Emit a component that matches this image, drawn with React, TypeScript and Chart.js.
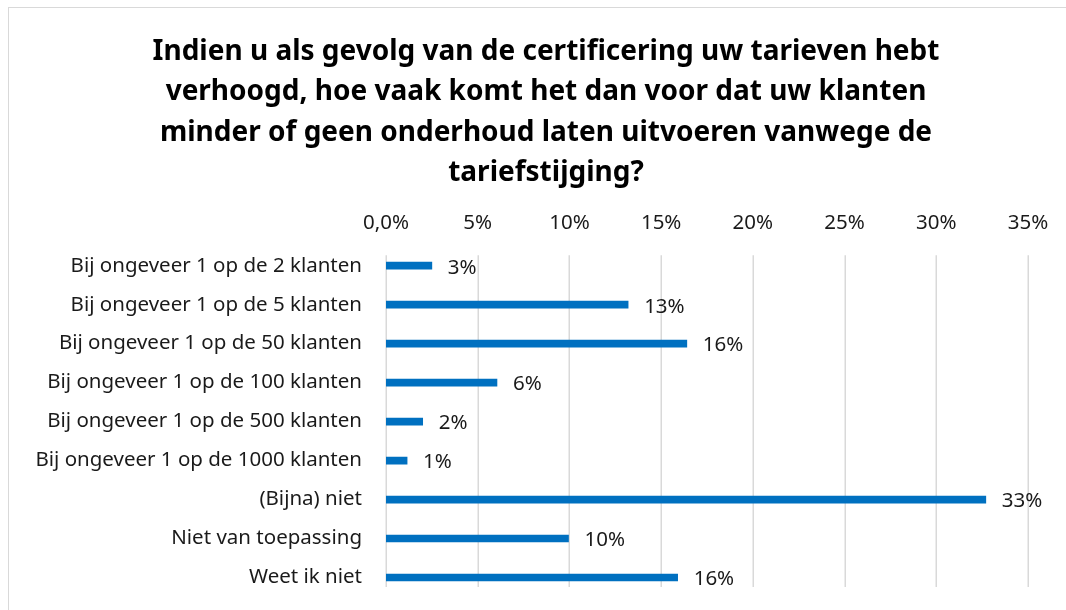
import React, { useEffect, useRef } from "react";
import { Chart, registerables } from "chart.js";

Chart.register(...registerables);

const titleLines = [
  "Indien u als gevolg van de certificering uw tarieven hebt",
  "verhoogd, hoe vaak komt het dan voor dat uw klanten",
  "minder of geen onderhoud laten uitvoeren vanwege de",
  "tariefstijging?",
];

const categories = [
  "Bij ongeveer 1 op de 2 klanten",
  "Bij ongeveer 1 op de 5 klanten",
  "Bij ongeveer 1 op de 50 klanten",
  "Bij ongeveer 1 op de 100 klanten",
  "Bij ongeveer 1 op de 500 klanten",
  "Bij ongeveer 1 op de 1000 klanten",
  "(Bijna) niet",
  "Niet van toepassing",
  "Weet ik niet",
];

const values = [2.5, 13.2, 16.4, 6.05, 2.0, 1.15, 32.7, 9.95, 15.9];

const valueLabels = ["3%", "13%", "16%", "6%", "2%", "1%", "33%", "10%", "16%"];

const tickLabels: Record<number, string> = {
  0: "0,0%",
  5: "5%",
  10: "10%",
  15: "15%",
  20: "20%",
  25: "25%",
  30: "30%",
  35: "35%",
};

const FONT = "'Noto Sans', sans-serif";
const TEXT = "#1a1a1a";

const gridPlugin = {
  id: "shortGrid",
  beforeDatasetsDraw(chart: any) {
    const ctx = chart.ctx;
    const xs = chart.scales.x;
    const area = chart.chartArea;
    ctx.save();
    ctx.strokeStyle = "#d9d9d9";
    ctx.lineWidth = 1.5;
    xs.ticks.forEach((t: any) => {
      const px = Math.round(xs.getPixelForValue(t.value)) + 0.25;
      ctx.beginPath();
      ctx.moveTo(px, area.top + 9);
      ctx.lineTo(px, area.bottom - 10);
      ctx.stroke();
    });
    ctx.restore();
  },
};

const dataLabelPlugin = {
  id: "dataLabels",
  afterDatasetsDraw(chart: any) {
    const ctx = chart.ctx;
    const meta = chart.getDatasetMeta(0);
    ctx.save();
    ctx.font = `20.5px ${FONT}`;
    ctx.fillStyle = TEXT;
    ctx.textAlign = "left";
    ctx.textBaseline = "middle";
    meta.data.forEach((bar: any, i: number) => {
      ctx.fillText(valueLabels[i], bar.x + 16, bar.y + 2);
    });
    ctx.restore();
  },
};

export default function App() {
  const ref = useRef<HTMLCanvasElement>(null);
  useEffect(() => {
    if (!ref.current) return;
    const chart = new Chart(ref.current, {
      type: "bar",
      data: {
        labels: categories,
        datasets: [
          {
            data: values,
            backgroundColor: "#0070C0",
            borderWidth: 0,
            barThickness: 7,
          },
        ],
      },
      options: {
        indexAxis: "y",
        animation: false,
        responsive: false,
        maintainAspectRatio: false,
        layout: { padding: { top: 0, left: 26, right: 0, bottom: 13 } },
        plugins: {
          legend: { display: false },
          tooltip: { enabled: false },
          title: {
            display: true,
            text: titleLines,
            color: "#000",
            font: { family: FONT, size: 28, weight: "bold", lineHeight: 40.3 / 28 },
            padding: { top: 32, bottom: 0 },
          },
        },
        scales: {
          x: {
            position: "top",
            min: 0,
            max: 35,
            border: { display: false },
            grid: { display: false, drawTicks: false },
            ticks: {
              stepSize: 5,
              padding: 11,
              color: TEXT,
              font: { family: FONT, size: 20.5 },
              callback: (v: any) => tickLabels[v as number] ?? "",
            },
            afterFit: (scale: any) => {
              scale.height = 246 - 193;
              scale.paddingLeft = 0;
              scale.paddingRight = 38;
            },
          },
          y: {
            border: { display: false },
            grid: { display: false, drawTicks: false },
            ticks: {
              padding: 24,
              color: TEXT,
              font: { family: FONT, size: 20.5 },
            },
            afterFit: (scale: any) => {
              scale.width = 386 - 26;
              scale.paddingTop = 0;
              scale.paddingBottom = 0;
            },
          },
        },
      },
      plugins: [gridPlugin, dataLabelPlugin],
    });
    return () => chart.destroy();
  }, []);
  return (
    <div style={{ position: "absolute", left: 0, top: 0, width: 1066, height: 610, overflow: "hidden", background: "#fff" }}>
      <div
        style={{
          position: "absolute",
          left: 8,
          top: 7,
          width: 1080,
          height: 620,
          border: "1px solid #d9d9d9",
          boxSizing: "border-box",
        }}
      />
      <canvas ref={ref} width={1066} height={610} style={{ position: "absolute", left: 0, top: 0 }} />
    </div>
  );
}
